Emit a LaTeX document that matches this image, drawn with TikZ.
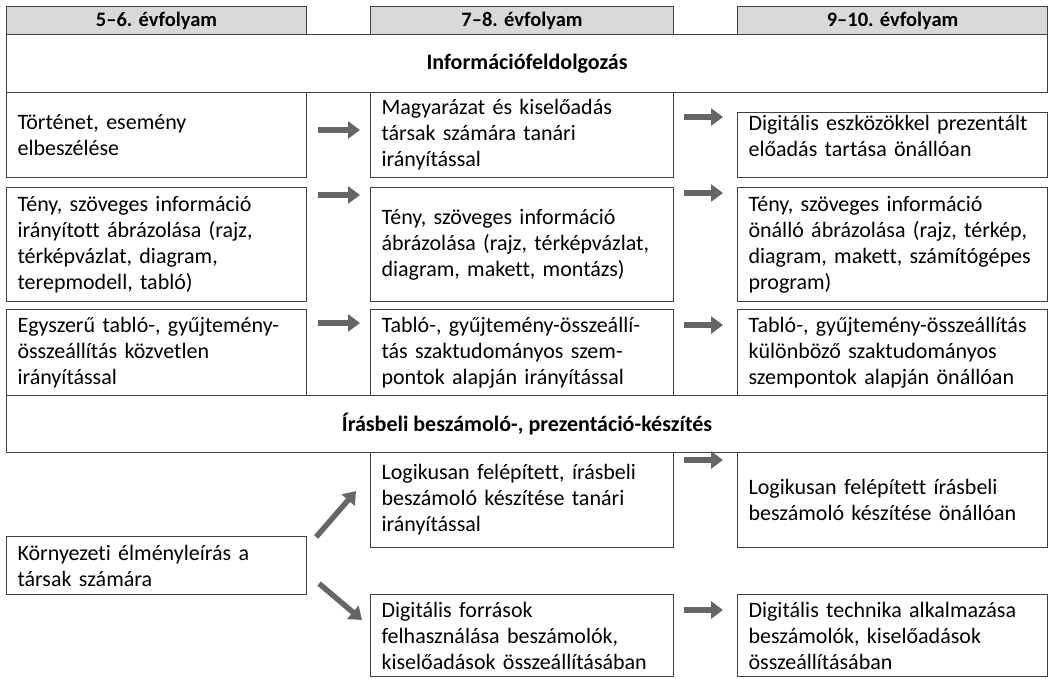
\documentclass[tikz,border=0pt]{standalone}
\usepackage{fontspec}
\setmainfont{Carlito}[Ligatures=NoCommon]
\usetikzlibrary{arrows.meta,calc}
\begin{document}
\begin{tikzpicture}[x=1pt,y=-1pt,
  box/.style={draw=black!75, line width=1.1pt, rectangle, anchor=north west,
    inner xsep=11pt, inner ysep=0pt, align=left,
    font=\fontsize{22}{26}\selectfont},
  hdr/.style={draw=black!75, line width=1.1pt, fill=black!15, anchor=north west,
    inner sep=0pt, align=center, minimum height=28pt,
    font=\fontsize{20.5}{24}\selectfont\bfseries},
  band/.style={draw=black!75, line width=1.1pt, anchor=north west, inner sep=0pt,
    minimum width=1041pt, align=center, font=\fontsize{22}{24}\selectfont\bfseries},
  arr/.style={draw=black!60, line width=5.5pt, -{Triangle[length=12pt,width=17pt]}}
]
\useasboundingbox (0,0) rectangle (1059,678);
% headers
\node[hdr, minimum width=300pt] (h1) at (6,6) {5–6. évfolyam};
\node[hdr, minimum width=303pt] (h2) at (370,6) {7–8. évfolyam};
\node[hdr, minimum width=310pt] (h3) at (737,6) {9–10. évfolyam};
% band 1
\node[band, minimum height=58pt] (b1) at (6,34) {Információfeldolgozás};
% row 1
\node[box, text width=278pt, minimum height=85pt] (l1) at (6,92) {Történet, esemény\\elbeszélése};
\node[box, text width=281pt, minimum height=85pt] (m1) at (370,92) {Magyarázat és kiselőadás\\társak számára tanári\\irányítással};
\node[box, text width=288pt, minimum height=65pt, text height=18pt, text depth=47pt] (r1) at (737,112) {Digitális eszközökkel prezentált\\előadás tartása önállóan};
% row 2
\node[box, text width=278pt, minimum height=114pt] (l2) at (6,187) {Tény, szöveges információ\\irányított ábrázolása (rajz,\\térképvázlat, diagram,\\terepmodell, tabló)};
\node[box, text width=281pt, minimum height=114pt] (m2) at (370,187) {Tény, szöveges információ\\ábrázolása (rajz, térképvázlat,\\diagram, makett, montázs)};
\node[box, text width=288pt, minimum height=114pt] (r2) at (737,187) {Tény, szöveges információ\\önálló ábrázolása (rajz, térkép,\\diagram, makett, számítógépes\\program)};
% row 3
\node[box, text width=278pt, minimum height=86pt] (l3) at (6,309) {Egyszerű tabló-, gyűjtemény-\\összeállítás közvetlen\\irányítással};
\node[box, text width=281pt, minimum height=86pt] (m3) at (370,309) {Tabló-, gyűjtemény-összeállí-\\tás szaktudományos szem-\\pontok alapján irányítással};
\node[box, text width=288pt, minimum height=86pt] (r3) at (737,309) {Tabló-, gyűjtemény-összeállítás\\különböző szaktudományos\\szempontok alapján önállóan};
% band 2
\node[band, minimum height=57pt] (b2) at (6,395) {Írásbeli beszámoló-, prezentáció-készítés};
% row 4
\node[box, text width=281pt, minimum height=95pt] (m4) at (370,452) {Logikusan felépített, írásbeli\\beszámoló készítése tanári\\irányítással};
\node[box, text width=288pt, minimum height=95pt] (r4) at (737,452) {Logikusan felépített írásbeli\\beszámoló készítése önállóan};
% row 5
\node[box, text width=278pt, minimum height=58pt] (l5) at (6,536) {Környezeti élményleírás a\\társak számára};
% row 6
\node[box, text width=281pt, minimum height=82pt] (m6) at (370,594) {Digitális források\\felhasználása beszámolók,\\kiselőadások összeállításában};
\node[box, text width=288pt, minimum height=82pt] (r6) at (737,594) {Digitális technika alkalmazása\\beszámolók, kiselőadások\\összeállításában};
% arrow heights
\coordinate (y1a) at (0,130);
\coordinate (y1b) at (0,117);
\coordinate (y2a) at (0,195);
\coordinate (y2b) at (0,193);
\coordinate (y3a) at (0,323);
\coordinate (y3b) at (0,325);
\coordinate (y4b) at (0,460);
\coordinate (y6b) at (0,610);
% arrows
\draw[arr, shorten <=11pt, shorten >=10pt] (l1.east |- y1a) -- (m1.west |- y1a);
\draw[arr, shorten <=10pt, shorten >=14pt] (m1.east |- y1b) -- (r1.west |- y1b);
\draw[arr, shorten <=11pt, shorten >=10pt] (l2.east |- y2a) -- (m2.west |- y2a);
\draw[arr, shorten <=10pt, shorten >=14pt] (m2.east |- y2b) -- (r2.west |- y2b);
\draw[arr, shorten <=11pt, shorten >=10pt] (l3.east |- y3a) -- (m3.west |- y3a);
\draw[arr, shorten <=10pt, shorten >=14pt] (m3.east |- y3b) -- (r3.west |- y3b);
\draw[arr, shorten <=10pt, shorten >=14pt] (m4.east |- y4b) -- (r4.west |- y4b);
\draw[arr, shorten <=10pt, shorten >=14pt] (m6.east |- y6b) -- (r6.west |- y6b);
\draw[arr] ($(l5.north east)+(9,1)$) -- ($(m4.south west)+(-14,-57)$);
\draw[arr] ($(l5.east)+(12,18)$) -- ($(m6.north west)+(-8,26)$);
\end{tikzpicture}
\end{document}
